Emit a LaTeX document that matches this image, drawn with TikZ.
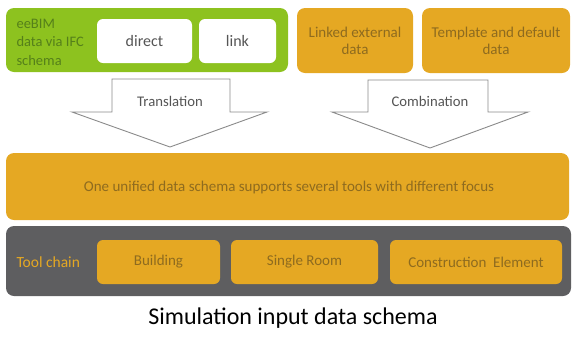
\documentclass[tikz,border=0pt]{standalone}
\usepackage{fontspec}
\setmainfont{Carlito}
\definecolor{cgreen}{HTML}{8DC21F}
\definecolor{cgreentext}{HTML}{55801A}
\definecolor{corange}{HTML}{E5A823}
\definecolor{corangetext}{HTML}{8E6B1F}
\definecolor{cgray}{HTML}{5E5E60}
\definecolor{carrow}{HTML}{8A8A8A}
\definecolor{clabel}{HTML}{555555}
\begin{document}
\begin{tikzpicture}[x=1pt,y=-1pt,
  box/.style={rounded corners=8pt},
  greenbox/.style={box,fill=cgreen},
  whitebox/.style={rounded corners=6pt,fill=white},
  orangebox/.style={box,fill=corange},
  graybox/.style={box,fill=cgray},
  innerbox/.style={rounded corners=6pt,fill=corange},
  otext/.style={text=corangetext,font=\fontsize{15}{17}\selectfont,align=center},
  gtext/.style={text=cgreentext,font=\fontsize{14.5}{18.5}\selectfont,align=left,anchor=west},
  wtext/.style={text=clabel,font=\fontsize{16}{18}\selectfont},
  blockarrow/.style={draw=carrow,fill=white,line width=0.9pt,line join=miter},
  alabel/.style={text=clabel,font=\fontsize{14.7}{17}\selectfont}]
\useasboundingbox (0,0) rectangle (573,338);
% top left green group
\fill[greenbox] (6,8) rectangle (288,72);
\node[gtext] (ee) at (13,42) {eeBIM\\data via IFC\\schema};
\fill[whitebox] (97,19) rectangle (192,63);
\node[wtext] (direct) at (144.5,41) {direct};
\fill[whitebox] (199,19) rectangle (276,63);
\node[wtext] (link) at (237.5,41) {link};
% top right orange boxes
\fill[orangebox] (297,8) rectangle (413,73);
\node[otext] (linked) at (355,40.5) {Linked external\\data};
\fill[orangebox] (422,8) rectangle (570,73);
\node[otext] (templ) at (496,40.5) {Template and default\\data};
% block arrows
\draw[blockarrow] (112,79) -- (230,79) -- (230,112) -- (267,112) -- (170,147) -- (72,112) -- (112,112) -- cycle;
\node[alabel] (trans) at (170,101) {Translation};
\draw[blockarrow] (368,80) -- (488,80) -- (488,112) -- (528,112) -- (430,148) -- (332,112) -- (368,112) -- cycle;
\node[alabel] (comb) at (430,101) {Combination};
% unified bar
\fill[orangebox] (6,153) rectangle (569,220);
\node[otext] (unified) at (289,187) {One unified data schema supports several tools with different focus};
% tool chain bar
\fill[graybox] (6,226) rectangle (571,296);
\node[text=corange,font=\fontsize{15.5}{17}\selectfont,anchor=west] (tc) at (13,262) {Tool chain};
\fill[innerbox] (97,240) rectangle (220,284);
\node[otext] (bld) at (158.5,262) {Building};
\fill[innerbox] (231,240) rectangle (378,284);
\node[otext] (room) at (304.5,262) {Single Room};
\fill[innerbox] (390,240) rectangle (562,284);
\node[otext] (constr) at (476,262) {Construction~ Element};
% caption
\node[font=\fontsize{24}{28}\selectfont,text=black] (cap) at (293,318) {Simulation input data schema};
\end{tikzpicture}
\end{document}
